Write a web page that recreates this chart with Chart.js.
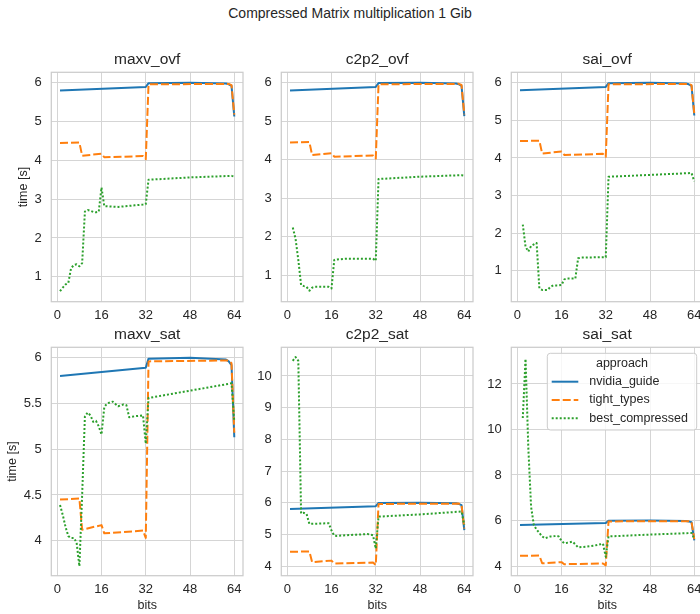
<!DOCTYPE html>
<html>
<head>
<meta charset="utf-8">
<title>Compressed Matrix multiplication 1 Gib</title>
<script src="https://cdn.jsdelivr.net/npm/chart.js@4.4.1/dist/chart.umd.min.js"></script>
<style>
  html, body { margin: 0; padding: 0; background: #fff; width: 700px; height: 614px; overflow: hidden; }
  #wrap { position: relative; width: 700px; height: 614px; overflow: hidden; }
  #wrap canvas { position: absolute; }
  #suptitle {
    position: absolute; left: 0; top: 5px; width: 700px; text-align: center;
    font: 14px "Liberation Sans", Arial, sans-serif; color: #262626;
  }
</style>
</head>
<body>
<div id="wrap">
  <div id="suptitle">Compressed Matrix multiplication 1 Gib</div>
</div>
<script>
// x axis ticks (bits) and y ticks per panel
const bitTicks = [0, 16, 32, 48, 64];
const ovfTicks = [1, 2, 3, 4, 5, 6];
const maxvSatTicks = [4, 4.5, 5, 5.5, 6];
const c2p2SatTicks = [4, 5, 6, 7, 8, 9, 10];
const saiSatTicks = [4, 6, 8, 10, 12];

// nvidia_guide and tight_types are the same in every panel
const nvidiaBits = [1, 32, 33, 48, 61, 62, 63, 64];
const nvidiaTime = [5.80, 5.89, 5.99, 6.00, 5.98, 5.96, 5.92, 5.13];
const tightBits = [1, 8, 9, 16, 17, 31, 32, 33, 62, 63, 64];
const tightTime = [4.45, 4.46, 4.12, 4.17, 4.08, 4.11, 4.03, 5.96, 5.97, 5.94, 5.18];

// best_compressed, one per panel
const maxvOvfBits = [1, 2, 3, 4, 5, 6, 7, 8, 9, 10, 11, 12, 13, 14, 15, 16, 17, 22, 28, 31, 32, 33, 48, 63, 64];
const maxvOvfTime = [0.63, 0.72, 0.80, 0.84, 1.22, 1.30, 1.32, 1.27, 1.35, 2.68, 2.72, 2.70, 2.67, 2.66, 2.68, 3.30, 2.82, 2.80, 2.84, 2.86, 2.87, 3.50, 3.56, 3.60, 3.58];

const c2p2OvfBits = [2, 3, 4, 5, 6, 7, 8, 9, 10, 15, 16, 17, 18, 21, 31, 32, 33, 48, 63, 64];
const c2p2OvfTime = [2.24, 1.95, 1.40, 0.75, 0.72, 0.70, 0.60, 0.68, 0.70, 0.70, 0.66, 1.40, 1.41, 1.43, 1.43, 1.38, 3.50, 3.56, 3.60, 3.59];

const saiOvfBits = [2, 3, 4, 5, 6, 7, 8, 9, 11, 12, 13, 15, 16, 17, 18, 21, 22, 23, 31, 32, 33, 48, 63, 64];
const saiOvfTime = [2.23, 1.64, 1.51, 1.66, 1.70, 1.74, 0.53, 0.49, 0.49, 0.57, 0.61, 0.61, 0.62, 0.77, 0.79, 0.79, 1.33, 1.35, 1.36, 1.36, 3.50, 3.55, 3.60, 3.38];

const maxvSatBits = [1, 2, 3, 4, 5, 6, 7, 8, 9, 10, 11, 12, 13, 14, 15, 16, 17, 18, 20, 22, 24, 25, 26, 28, 31, 32, 33, 48, 63, 64];
const maxvSatTime = [4.39, 4.28, 4.15, 4.05, 4.03, 4.03, 3.98, 3.72, 4.50, 5.36, 5.40, 5.37, 5.30, 5.31, 5.25, 5.16, 5.46, 5.50, 5.52, 5.47, 5.49, 5.48, 5.35, 5.36, 5.37, 5.06, 5.56, 5.64, 5.72, 5.30];

const c2p2SatBits = [2, 3, 4, 5, 6, 7, 8, 15, 16, 17, 18, 21, 25, 29, 31, 32, 33, 48, 63, 64];
const c2p2SatTime = [10.48, 10.60, 10.48, 5.66, 5.68, 5.64, 5.33, 5.35, 5.12, 4.96, 4.95, 4.97, 4.99, 5.01, 4.97, 4.55, 5.56, 5.63, 5.72, 5.30];

const saiSatBits = [2, 3, 4, 5, 6, 7, 8, 9, 10, 11, 12, 13, 14, 15, 16, 17, 18, 20, 21, 22, 25, 28, 31, 32, 33, 48, 63, 64];
const saiSatTime = [10.5, 13.1, 9.2, 6.6, 5.8, 5.6, 5.45, 5.3, 5.22, 5.26, 5.3, 5.3, 5.33, 5.3, 5.1, 5.0, 5.02, 5.07, 4.95, 4.82, 4.85, 4.9, 4.98, 4.4, 5.3, 5.38, 5.45, 5.2];

const approaches = ['nvidia_guide', 'tight_types', 'best_compressed'];

// layout of the 2x3 grid (page pixels)
const rowTop = [72.3, 347.3];
const rowBottom = [301.7, 575.7];
const colLeft = [51.3, 281.3, 511.3];
const plotW = 191.7;

const textColor = '#262626';
const gridColor = '#d5d5d5';
const edgeColor = '#cccccc';
const fontFamily = '"Liberation Sans", Arial, sans-serif';

const panels = [
    { title: 'maxv_ovf', bits: maxvOvfBits, time: maxvOvfTime, yMin: 0.356, yMax: 6.27, yTicks: ovfTicks, row: 0, col: 0, yLabelX: 24 },
    { title: 'c2p2_ovf', bits: c2p2OvfBits, time: c2p2OvfTime, yMin: 0.315, yMax: 6.27, yTicks: ovfTicks, row: 0, col: 1 },
    { title: 'sai_ovf', bits: saiOvfBits, time: saiOvfTime, yMin: 0.176, yMax: 6.28, yTicks: ovfTicks, row: 0, col: 2 },
    { title: 'maxv_sat', bits: maxvSatBits, time: maxvSatTime, yMin: 3.617, yMax: 6.114, yTicks: maxvSatTicks, row: 1, col: 0, yLabelX: 12.5 },
    { title: 'c2p2_sat', bits: c2p2SatBits, time: c2p2SatTime, yMin: 3.694, yMax: 10.906, yTicks: c2p2SatTicks, row: 1, col: 1 },
    { title: 'sai_sat', bits: saiSatBits, time: saiSatTime, yMin: 3.574, yMax: 13.61, yTicks: saiSatTicks, row: 1, col: 2, legend: true }
];

function toPoints(xs, ys) {
    return xs.map((x, i) => ({ x: x, y: ys[i] }));
}

// frame around each plot area
const framePlugin = {
    id: 'frame',
    afterDraw(chart) {
        const { ctx, chartArea } = chart;
        ctx.save();
        ctx.strokeStyle = edgeColor;
        ctx.lineWidth = 1.25;
        ctx.strokeRect(chartArea.left, chartArea.top, chartArea.right - chartArea.left, chartArea.bottom - chartArea.top);
        ctx.restore();
    }
};

// seaborn-like legend box with a title
const approachLegend = {
    id: 'approachLegend',
    afterDraw(chart, args, opts) {
        if (!opts.show) return;
        const { ctx, chartArea } = chart;
        const w = 149.4, h = 76.7;
        const x = chartArea.right - 6.3 - w, y = chartArea.top + 6;
        ctx.save();
        ctx.beginPath();
        ctx.roundRect(x, y, w, h, 3);
        ctx.fillStyle = 'rgba(255,255,255,0.8)';
        ctx.fill();
        ctx.strokeStyle = edgeColor;
        ctx.lineWidth = 1;
        ctx.stroke();
        ctx.fillStyle = textColor;
        ctx.font = '12.5px ' + fontFamily;
        ctx.textBaseline = 'middle';
        ctx.textAlign = 'center';
        ctx.fillText('approach', x + w / 2, y + 10);
        ctx.textAlign = 'left';
        chart.data.datasets.forEach((ds, i) => {
            const ly = y + 28.4 + i * 18.3;
            ctx.beginPath();
            ctx.strokeStyle = ds.borderColor;
            ctx.lineWidth = ds.borderWidth;
            ctx.setLineDash(ds.borderDash || []);
            ctx.moveTo(x + 4.4, ly);
            ctx.lineTo(x + 31, ly);
            ctx.stroke();
            ctx.setLineDash([]);
            ctx.fillText(ds.label, x + 42, ly);
        });
        ctx.restore();
    }
};

const wrap = document.getElementById('wrap');

panels.forEach(p => {
    const canvasLeft = p.col === 0 ? 0 : Math.floor(colLeft[p.col] - 30);
    const yBoxW = colLeft[p.col] - canvasLeft;
    const canvasTop = Math.floor(rowTop[p.row] - 22);
    const titlePadTop = rowTop[p.row] - canvasTop - 21.6;
    const canvasBottom = p.row === 0 ? Math.ceil(rowBottom[0] + 24) : 614;
    const xBoxH = canvasBottom - rowBottom[p.row];
    const width = Math.ceil(yBoxW + plotW + 14);
    const padRight = width - yBoxW - plotW;
    const height = canvasBottom - canvasTop;

    const canvas = document.createElement('canvas');
    canvas.width = width;
    canvas.height = height;
    canvas.style.left = canvasLeft + 'px';
    canvas.style.top = canvasTop + 'px';
    canvas.style.width = width + 'px';
    canvas.style.height = height + 'px';
    wrap.appendChild(canvas);

    new Chart(canvas.getContext('2d'), {
        type: 'line',
        data: {
            datasets: [{
                label: approaches[0],
                data: toPoints(nvidiaBits, nvidiaTime),
                borderColor: '#1f77b4',
                borderWidth: 2,
                order: 3
            }, {
                label: approaches[1],
                data: toPoints(tightBits, tightTime),
                borderColor: '#ff7f0e',
                borderWidth: 2,
                borderDash: [8, 3],
                order: 2
            }, {
                label: approaches[2],
                data: toPoints(p.bits, p.time),
                borderColor: '#2ca02c',
                borderWidth: 2,
                borderDash: [2, 2],
                order: 1
            }]
        },
        options: {
            responsive: false,
            animation: false,
            events: [],
            elements: {
                point: { radius: 0 },
                line: { tension: 0, fill: false, borderJoinStyle: 'round' }
            },
            layout: { autoPadding: false, padding: { left: 0, top: 0, bottom: 0, right: padRight } },
            plugins: {
                legend: { display: false },
                tooltip: { enabled: false },
                title: {
                    display: true,
                    text: p.title,
                    fullSize: false,
                    color: textColor,
                    font: { family: fontFamily, size: 15.5, weight: 'normal', lineHeight: 1.2 },
                    padding: { top: titlePadTop, bottom: 3 }
                },
                approachLegend: { show: !!p.legend }
            },
            scales: {
                x: {
                    type: 'linear',
                    min: -2.15,
                    max: 67.15,
                    afterBuildTicks: s => { s.ticks = bitTicks.map(v => ({ value: v })); },
                    afterFit: s => { s.height = xBoxH; },
                    ticks: {
                        color: textColor,
                        font: { family: fontFamily, size: 13 },
                        padding: 6,
                        maxRotation: 0,
                        autoSkip: false,
                        callback: v => String(v)
                    },
                    grid: { color: gridColor, lineWidth: 1, drawTicks: false },
                    border: { display: false },
                    title: {
                        display: p.row === 1,
                        text: 'bits',
                        color: textColor,
                        font: { family: fontFamily, size: 12.5, lineHeight: 1.2 },
                        padding: { top: 0, bottom: 0.5 }
                    }
                },
                y: {
                    type: 'linear',
                    min: p.yMin,
                    max: p.yMax,
                    afterBuildTicks: s => { s.ticks = p.yTicks.map(v => ({ value: v })); },
                    afterFit: s => { s.width = yBoxW; },
                    ticks: {
                        color: textColor,
                        font: { family: fontFamily, size: 13 },
                        padding: 9.5,
                        autoSkip: false,
                        callback: v => String(v)
                    },
                    grid: { color: gridColor, lineWidth: 1, drawTicks: false },
                    border: { display: false },
                    title: {
                        display: p.col === 0,
                        text: 'time [s]',
                        color: textColor,
                        font: { family: fontFamily, size: 12.5, lineHeight: 1.2 },
                        padding: { top: (p.yLabelX || 20) - 7.5, bottom: 0 }
                    }
                }
            }
        },
        plugins: [framePlugin, approachLegend]
    });
});
</script>
</body>
</html>
